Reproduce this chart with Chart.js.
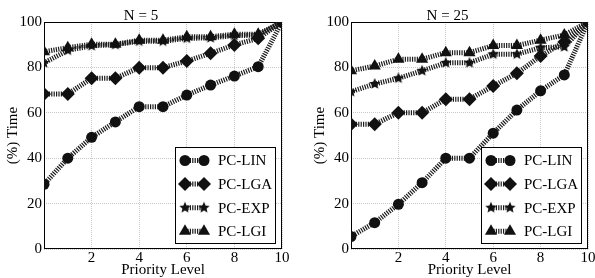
<!DOCTYPE html>
<html>
<head>
<meta charset="utf-8">
<script src="https://cdn.jsdelivr.net/npm/chart.js@4"></script>
<style>
  body { margin: 0; background: #fff; }
  #wrap { position: relative; width: 595px; height: 278px; }
  canvas { position: absolute; top: 0; }
</style>
</head>
<body>
<div id="wrap">
  <canvas id="chart-n5" width="297" height="278" style="left:0"></canvas>
  <canvas id="chart-n25" width="298" height="278" style="left:297px"></canvas>
</div>
<script>
// Priority levels (x axis)
const levels = [0, 1, 2, 3, 4, 5, 6, 7, 8, 9, 10];
const seriesNames = ["PC-LIN", "PC-LGA", "PC-EXP", "PC-LGI"];

// N = 5
const n5Lin = [28.5, 40, 49.2, 56, 62.7, 62.7, 67.8, 72.2, 76.2, 80.3, 100];
const n5Lga = [68.3, 68.3, 75.2, 75.2, 79.9, 79.9, 82.8, 86.2, 89.9, 92.8, 100];
const n5Exp = [82, 87.5, 89.5, 90, 91.5, 91.5, 92.8, 93, 94, 94.2, 100];
const n5Lgi = [86.9, 88.7, 90.2, 90.2, 92, 92, 93.5, 93.5, 94.6, 94.6, 100];

// N = 25
const n25Lin = [5.5, 11.6, 19.7, 29.2, 40, 40, 51, 61.2, 69.7, 76.7, 100];
const n25Lga = [55, 55, 60, 60, 66, 66, 71.8, 77.4, 85, 91.2, 100];
const n25Exp = [69.3, 72.7, 75.2, 78.5, 82, 82, 85.8, 85.8, 88.7, 89, 100];
const n25Lgi = [78.5, 80.6, 83.6, 83.6, 86.5, 86.5, 89.6, 89.6, 92, 94.3, 100];

const xTicks = [2, 4, 6, 8, 10];

Chart.defaults.font.family = "'Liberation Serif', 'DejaVu Serif', serif";
Chart.defaults.color = "#000";

// filled 5-point star (Chart.js 'star' is only strokes)
function makeStar(r) {
  const c = document.createElement("canvas");
  const s = Math.ceil(r * 2 + 2);
  c.width = s; c.height = s;
  const g = c.getContext("2d");
  g.fillStyle = "#111";
  g.beginPath();
  for (let i = 0; i < 10; i++) {
    const rad = i % 2 === 0 ? r : r * 0.45;
    const a = -Math.PI / 2 + i * Math.PI / 5;
    const px = s / 2 + rad * Math.cos(a);
    const py = s / 2 + rad * Math.sin(a);
    if (i === 0) g.moveTo(px, py); else g.lineTo(px, py);
  }
  g.closePath();
  g.fill();
  return c;
}
const star = makeStar(6);

const markers = [
  { style: "circle", radius: 5.5 },
  { style: "rectRot", radius: 7 },
  { style: star, radius: 6 },
  { style: "triangle", radius: 7 },
];

// black frame round the plot area
const frame = {
  id: "frame",
  beforeDatasetsDraw(chart) {
    const { ctx, chartArea: a } = chart;
    ctx.save();
    ctx.strokeStyle = "#000";
    ctx.lineWidth = 1;
    ctx.strokeRect(Math.round(a.left) + 0.5, Math.round(a.top) + 0.5,
      Math.round(a.right - a.left) - 1, Math.round(a.bottom - a.top) - 1);
    ctx.restore();
  },
};

// boxed legend in the lower right corner of the plot
const legendBox = {
  id: "legendBox",
  afterDraw(chart) {
    const { ctx, chartArea: a } = chart;
    const w = 100, h = 96;
    const x0 = Math.round(a.right - 7 - w), y0 = Math.round(a.bottom - 6 - h);
    ctx.save();
    ctx.fillStyle = "#fff";
    ctx.fillRect(x0, y0, w, h);
    ctx.strokeStyle = "#000";
    ctx.lineWidth = 1;
    ctx.strokeRect(x0 + 0.5, y0 + 0.5, w, h);
    chart.data.datasets.forEach((ds, i) => {
      const cy = y0 + 13.5 + i * 23.6;
      const xa = x0 + 10, xb = x0 + 29;
      ctx.save();
      ctx.strokeStyle = ds.borderColor;
      ctx.lineWidth = ds.borderWidth;
      ctx.setLineDash(ds.borderDash);
      ctx.beginPath();
      ctx.moveTo(xa, cy);
      ctx.lineTo(xb, cy);
      ctx.stroke();
      ctx.restore();
      ctx.fillStyle = "#111";
      [xa, xb].forEach((px) => {
        Chart.helpers.drawPoint(ctx, { pointStyle: ds.pointStyle, radius: ds.pointRadius, borderWidth: 0, rotation: 0 }, px, cy);
      });
      ctx.fillStyle = "#000";
      ctx.font = "15px 'Liberation Serif', serif";
      ctx.textBaseline = "middle";
      ctx.textAlign = "left";
      ctx.fillText(ds.label, x0 + 43, cy + 1);
    });
    ctx.restore();
  },
};

function buildChart(id, title, series, padLeft, padRight) {
  const datasets = series.map((vals, i) => ({
    label: seriesNames[i],
    data: levels.map((x, k) => ({ x: x, y: vals[k] })),
    borderColor: "#1a1a1a",
    borderWidth: 5,
    borderDash: [1.2, 1.2],
    borderCapStyle: "butt",
    pointStyle: markers[i].style,
    pointRadius: markers[i].radius,
    pointHoverRadius: markers[i].radius,
    pointBackgroundColor: "#111",
    pointBorderColor: "#111",
    pointBorderWidth: 0,
    tension: 0,
  }));

  return new Chart(document.getElementById(id), {
    type: "line",
    data: { datasets },
    plugins: [frame, legendBox],
    options: {
      responsive: false,
      animation: false,
      layout: { padding: { left: padLeft, right: padRight, top: 0, bottom: 0 } },
      plugins: {
        legend: { display: false },
        tooltip: { enabled: false },
        title: {
          display: true,
          text: title,
          font: { size: 15, weight: "normal", lineHeight: 0.8 },
          padding: { top: 10, bottom: 0 },
        },
      },
      scales: {
        x: {
          type: "linear",
          min: 0,
          max: 10,
          afterBuildTicks: (s) => { s.ticks = xTicks.map((v) => ({ value: v })); },
          afterFit: (s) => { s.height = 29; s.paddingLeft = 0; s.paddingRight = 0; },
          ticks: { font: { size: 15 }, padding: 0, maxRotation: 0 },
          grid: { color: "#c8c8c8", drawTicks: false },
          border: { display: false, dash: [1, 1] },
          title: {
            display: true,
            text: "Priority Level",
            font: { size: 15, lineHeight: 1 },
            padding: { top: 0, bottom: 0 },
          },
        },
        y: {
          min: 0,
          max: 100,
          afterFit: (s) => { s.width = 44; },
          ticks: { stepSize: 20, font: { size: 15 }, padding: 2 },
          grid: { color: "#c8c8c8", drawTicks: false },
          border: { display: false, dash: [1, 1] },
          title: {
            display: true,
            text: "(%) Time",
            font: { size: 15, lineHeight: 1 },
            padding: { top: 6, bottom: 0 },
          },
        },
      },
    },
  });
}

buildChart("chart-n5", "N = 5", [n5Lin, n5Lga, n5Exp, n5Lgi], 0, 15);
buildChart("chart-n25", "N = 25", [n25Lin, n25Lga, n25Exp, n25Lgi], 10, 7);
</script>
</body>
</html>
